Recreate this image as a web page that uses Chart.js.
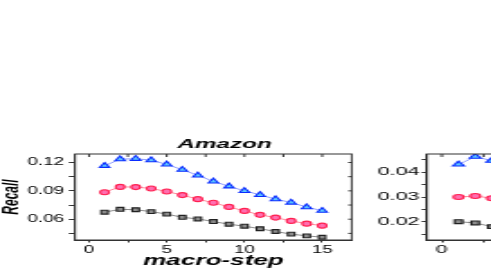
<!DOCTYPE html>
<html>
<head>
<meta charset="utf-8">
<script src="https://cdn.jsdelivr.net/npm/chart.js@4"></script>
<style>
html, body { margin: 0; padding: 0; background: #fff; overflow: hidden; width: 491px; height: 273px; }
.wrap { position: absolute; top: 125px; transform-origin: 0 0; }
#w1 { left: 0; transform: scaleX(1.8); }
#w2 { left: 370px; transform: scaleX(2.05); }
canvas { display: block; }
</style>
</head>
<body>
<div class="wrap" id="w1"><canvas id="c1" width="205" height="148"></canvas></div>
<div class="wrap" id="w2"><canvas id="c2" width="185" height="148"></canvas></div>
<script>
// values
const steps = [1, 2, 3, 4, 5, 6, 7, 8, 9, 10, 11, 12, 13, 14, 15]
const amazonTri = [0.1165, 0.1236, 0.1240, 0.1225, 0.1180, 0.1124, 0.1064, 0.1000, 0.0948, 0.0900, 0.0858, 0.0812, 0.0777, 0.0728, 0.0690]
const amazonCirc = [0.0886, 0.0942, 0.0940, 0.0925, 0.0893, 0.0855, 0.0812, 0.0774, 0.0730, 0.0688, 0.0646, 0.0617, 0.0582, 0.0553, 0.0532]
const amazonSq = [0.0674, 0.0705, 0.0700, 0.0680, 0.0654, 0.0620, 0.0603, 0.0575, 0.0547, 0.0526, 0.0499, 0.0470, 0.0442, 0.0424, 0.0409]

// second panel, only its first steps are inside the picture
const steps2 = [1, 2, 3]
const rightTri = [0.0432, 0.0463, 0.0447]
const rightCirc = [0.0300, 0.0304, 0.0295]
const rightSq = [0.0200, 0.0195, 0.0180]

const xTicks = [0, 2.5, 5, 7.5, 10, 12.5, 15]
const xLabels = [0, 5, 10, 15]
const yTicks1 = [0.045, 0.06, 0.075, 0.09, 0.105, 0.12]
const yLabels1 = [0.06, 0.09, 0.12]
const yTicks2 = [0.015, 0.02, 0.025, 0.03, 0.035, 0.04, 0.045]
const yLabels2 = [0.02, 0.03, 0.04]

const FONT = '"Liberation Sans", Arial, sans-serif'
const near = (arr, v) => arr.some(a => Math.abs(a - v) < 1e-9)

// box round the plot with inward ticks on top and right, plus panel title
const frame = {
    id: 'frame',
    afterDraw(chart, args, opts) {
        const { ctx, chartArea: a, scales: { x, y } } = chart
        ctx.save()
        ctx.strokeStyle = '#333'
        ctx.lineWidth = 1
        ctx.strokeRect(a.left, a.top, a.right - a.left, a.bottom - a.top)
        ctx.beginPath()
        x.ticks.forEach(t => {
            const px = x.getPixelForValue(t.value)
            ctx.moveTo(px, a.top)
            ctx.lineTo(px, a.top + 3)
        })
        y.ticks.forEach(t => {
            const py = y.getPixelForValue(t.value)
            ctx.moveTo(a.right, py)
            ctx.lineTo(a.right - 2, py)
        })
        ctx.stroke()
        if (opts.title) {
            ctx.fillStyle = '#000'
            ctx.font = 'italic bold 13.5px ' + FONT
            ctx.textAlign = 'center'
            ctx.textBaseline = 'alphabetic'
            ctx.fillText(opts.title, opts.titleX, opts.titleY)
        }
        ctx.restore()
    }
}

function series(xs, ys, style) {
    return {
        data: xs.map((v, i) => ({ x: v, y: ys[i] })),
        borderWidth: 1,
        pointBorderWidth: 1.1,
        ...style
    }
}

const triStyle = { label: 'triangle', borderColor: '#8f9cff', pointStyle: 'triangle', pointRadius: 3.2, pointBackgroundColor: '#5cc6ff', pointBorderColor: '#0a2cff' }
const circStyle = { label: 'circle', borderColor: '#ff8a9c', pointStyle: 'circle', pointRadius: 2.5, pointBackgroundColor: '#ff6fb0', pointBorderColor: '#ff1f4f' }
const sqStyle = { label: 'square', borderColor: '#8a8a8a', pointStyle: 'rect', pointRadius: 2.7, pointBackgroundColor: '#8c8c8c', pointBorderColor: '#222' }

function makeChart(el, p) {
    return new Chart(el, {
        type: 'line',
        data: {
            datasets: [
                series(p.xs, p.tri, triStyle),
                series(p.xs, p.circ, circStyle),
                series(p.xs, p.sq, sqStyle)
            ]
        },
        options: {
            responsive: false,
            animation: false,
            layout: { padding: { left: 0, top: 29, right: p.padRight, bottom: 0 } },
            plugins: {
                legend: { display: false },
                tooltip: { enabled: false },
                frame: { title: p.title, titleX: p.titleX, titleY: 23.3 }
            },
            scales: {
                x: {
                    type: 'linear',
                    min: -0.9,
                    max: 16.9,
                    afterBuildTicks: s => { s.ticks = xTicks.map(v => ({ value: v })) },
                    afterFit: s => { s.height = 33 },
                    grid: { drawOnChartArea: false, tickLength: 2.5, color: '#333' },
                    border: { color: '#333' },
                    ticks: {
                        autoSkip: false,
                        maxRotation: 0,
                        padding: 1,
                        color: '#000',
                        font: { family: FONT, size: 10.5 },
                        callback: v => near(xLabels, v) ? String(v) : ''
                    },
                    title: {
                        display: true,
                        text: 'macro-step',
                        color: '#000',
                        padding: { top: 0, bottom: 5 },
                        font: { family: FONT, size: 14.5, style: 'italic', weight: 'bold', lineHeight: 1 }
                    }
                },
                y: {
                    min: p.yMin,
                    max: p.yMax,
                    afterBuildTicks: s => { s.ticks = p.yTicks.map(v => ({ value: v })) },
                    afterFit: s => { s.width = p.yWidth },
                    grid: { drawOnChartArea: false, tickLength: p.yTick, color: '#333' },
                    border: { color: '#333' },
                    ticks: {
                        autoSkip: false,
                        padding: p.yPad,
                        color: '#000',
                        font: { family: FONT, size: 10.5 },
                        callback: v => near(p.yLabels, v) ? v.toFixed(2) : ''
                    },
                    title: {
                        display: !!p.yTitle,
                        text: p.yTitle,
                        color: '#000',
                        padding: { top: 0.5, bottom: 0 },
                        font: { family: FONT, size: 12, style: 'italic', weight: 'bold', lineHeight: 1 }
                    }
                }
            }
        },
        plugins: [frame]
    })
}

makeChart(document.getElementById('c1'), {
    xs: steps, tri: amazonTri, circ: amazonCirc, sq: amazonSq,
    yMin: 0.038, yMax: 0.129, yTicks: yTicks1, yLabels: yLabels1,
    yWidth: 41.7, yTick: 3.5, yPad: 2.5, padRight: 9.6,
    yTitle: 'Recall', title: 'Amazon', titleX: 124.7
})

makeChart(document.getElementById('c2'), {
    xs: steps2, tri: rightTri, circ: rightCirc, sq: rightSq,
    yMin: 0.0126, yMax: 0.0474, yTicks: yTicks2, yLabels: yLabels2,
    yWidth: 27.7, yTick: 2.5, yPad: 1, padRight: 12.3,
    yTitle: '', title: '', titleX: 0
})
</script>
</body>
</html>
